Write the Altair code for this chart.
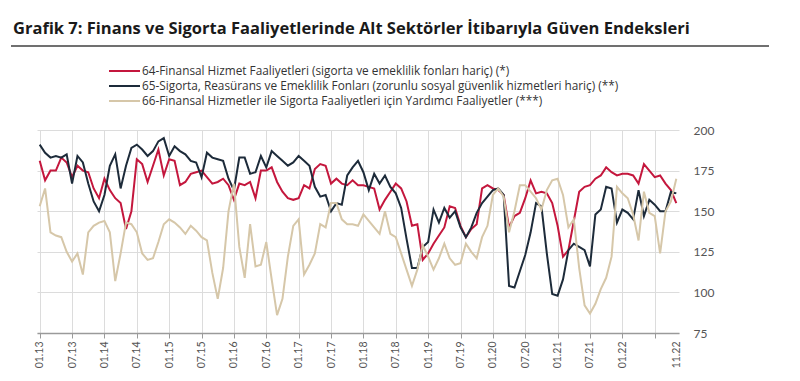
import altair as alt
import pandas as pd

# ---- data (monthly, 01.2013 .. 11.2022) ----
s64 = [181, 169, 175, 175, 183, 180, 171, 178, 175, 174, 164, 158,
       170, 163, 158, 155, 139, 150, 182, 179, 168, 178, 188, 172,
       182, 181, 166, 168, 173, 174, 175, 171, 167, 168, 170, 166,
       157, 167, 166, 168, 158, 175, 175, 177, 168, 162, 158, 157,
       158, 166, 164, 176, 179, 178, 167, 170, 167, 166, 169, 166,
       166, 165, 164, 151, 157, 162, 167, 164, 156, 141, 142, 120,
       124, 130, 135, 140, 153, 152, 141, 134, 139, 142, 164, 166,
       164, 163, 160, 140, 147, 149, 158, 169, 161, 162, 161, 155,
       141, 122, 126, 144, 162, 165, 166, 170, 172, 177, 174, 172,
       173, 173, 172, 167, 179, 175, 171, 172, 167, 163, 155]

s65 = [191, 186, 183, 184, 183, 185, 167, 184, 180, 167, 156, 150,
       160, 178, 185, 164, 178, 189, 191, 188, 184, 187, 193, 195,
       184, 190, 187, 185, 181, 180, 171, 186, 183, 182, 181, 170,
       163, 183, 183, 173, 174, 184, 177, 187, 184, 181, 178, 180,
       184, 181, 178, 165, 159, 160, 150, 155, 154, 172, 177, 181,
       174, 163, 173, 167, 172, 165, 161, 152, 133, 115, 115, 128,
       131, 151, 143, 152, 146, 150, 140, 134, 140, 149, 155, 159,
       163, 164, 160, 104, 103, 113, 123, 137, 155, 153, 124, 99,
       98, 108, 126, 130, 128, 126, 116, 148, 151, 165, 164, 143,
       151, 149, 145, 163, 147, 157, 154, 150, 150, 162, 161]

s66 = [153, 164, 137, 135, 134, 125, 119, 124, 111, 137, 141, 143,
       144, 137, 107, 124, 143, 142, 137, 124, 120, 121, 131, 142,
       145, 143, 140, 136, 141, 138, 134, 132, 112, 96, 115, 150,
       167, 128, 109, 142, 116, 117, 131, 108, 86, 96, 122, 141,
       145, 111, 117, 124, 142, 140, 155, 155, 145, 142, 142, 141,
       148, 144, 140, 136, 150, 136, 134, 124, 114, 104, 114, 129,
       122, 114, 121, 130, 121, 117, 118, 130, 125, 121, 134, 141,
       160, 164, 159, 137, 150, 166, 166, 162, 158, 151, 163, 169,
       170, 160, 140, 145, 115, 92, 87, 93, 102, 109, 122, 165,
       161, 158, 148, 132, 162, 149, 147, 124, 150, 156, 170]

series_names = [
    "64-Finansal Hizmet Faaliyetleri (sigorta ve emeklilik fonları hariç) (*)",
    "65-Sigorta, Reasürans ve Emeklilik Fonları (zorunlu sosyal güvenlik hizmetleri hariç) (**)",
    "66-Finansal Hizmetler ile Sigorta Faaliyetleri için Yardımcı Faaliyetler (***)",
]
series_colors = ["#C4173D", "#1D2B3A", "#D6C7A9"]

tick_positions = [0, 6, 12, 18, 24, 30, 36, 42, 48, 54, 60, 66, 72, 78, 84,
                  90, 96, 102, 108, 114, 118]
tick_labels = ["01.13", "07.13", "01.14", "07.14", "01.15", "07.15", "01.16",
               "07.16", "01.17", "07.17", "01.18", "07.18", "01.19", "07.19",
               "01.20", "07.20", "01.21", "07.21", "01.22", "", "11.22"]

y_ticks = [75, 100, 125, 150, 175, 200]

title_text = "Grafik 7:  Finans ve Sigorta Faaliyetlerinde Alt Sektörler İtibarıyla Güven Endeksleri"

assert len(s64) == len(s65) == len(s66) == 119

rows = []
for name, vals in zip(series_names, [s64, s65, s66]):
    for i, v in enumerate(vals):
        rows.append({"i": i, "v": v, "s": name})
df = pd.DataFrame(rows)

pos_js = "[" + ",".join(str(p) for p in tick_positions) + "]"
lab_js = "[" + ",".join("'" + l + "'" for l in tick_labels) + "]"
label_expr = f"{lab_js}[indexof({pos_js}, datum.value)]"

W, H = 642, 203
FONT = "Lato"

lines = alt.Chart(df).mark_line(strokeWidth=2).encode(
    x=alt.X("i:Q",
            scale=alt.Scale(domain=[-0.5, 118.5], nice=False, zero=False),
            axis=alt.Axis(values=tick_positions, labelExpr=label_expr,
                          labelAngle=270, labelFontSize=10.5, labelFont=FONT,
                          labelColor="#555555", labelPadding=3,
                          tickSize=5, tickColor={"condition": {"test": "datum.value == 118", "value": "transparent"}, "value": "#9a9a9a"},
                          domainColor="#9a9a9a", domainWidth=1.5,
                          grid=True,
                          gridColor={"condition": {"test": "datum.value == 118", "value": "transparent"}, "value": "#dcdcdc"},
                          title=None)),
    y=alt.Y("v:Q",
            scale=alt.Scale(domain=[75, 200], nice=False, zero=False),
            axis=alt.Axis(orient="right", values=y_ticks, labelFontSize=12,
                          labelFont=FONT, labelColor="#555555", labelPadding=14,
                          ticks=False, domain=False, grid=True,
                          gridColor="#dcdcdc", title=None)),
    color=alt.Color("s:N", scale=alt.Scale(domain=series_names, range=series_colors),
                    legend=None),
)

one = pd.DataFrame({"t": [title_text]})
title = alt.Chart(one).mark_text(align="left", baseline="middle", font="Open Sans",
                                 fontWeight="bold", fontSize=16.5, color="#1a1a1a").encode(
    text="t:N", x=alt.value(-24), y=alt.value(-101))

underline = alt.Chart(one).mark_rule(color="#707070", strokeWidth=2).encode(
    x=alt.value(-26), x2=alt.value(733), y=alt.value(-84))

legend_layers = []
for k, (name, col) in enumerate(zip(series_names, series_colors)):
    d = pd.DataFrame({"n": [name]})
    yk = -59 + 15 * k
    legend_layers.append(
        alt.Chart(d).mark_rule(color=col, strokeWidth=2).encode(
            x=alt.value(72), x2=alt.value(103), y=alt.value(yk)))
    legend_layers.append(
        alt.Chart(d).mark_text(align="left", baseline="middle", font="Open Sans",
                               fontSize=11.8, color="#333333").encode(
            text="n:N", x=alt.value(105), y=alt.value(yk)))

chart = alt.layer(lines, title, underline, *legend_layers).properties(
    width=W, height=H,
    padding={"left": 29, "top": 122, "right": 90, "bottom": 45},
    autosize=alt.AutoSizeParams(type="none"),
).configure_view(stroke=None)

chart.save("out.html", embed_options={"renderer": "svg", "actions": False})
